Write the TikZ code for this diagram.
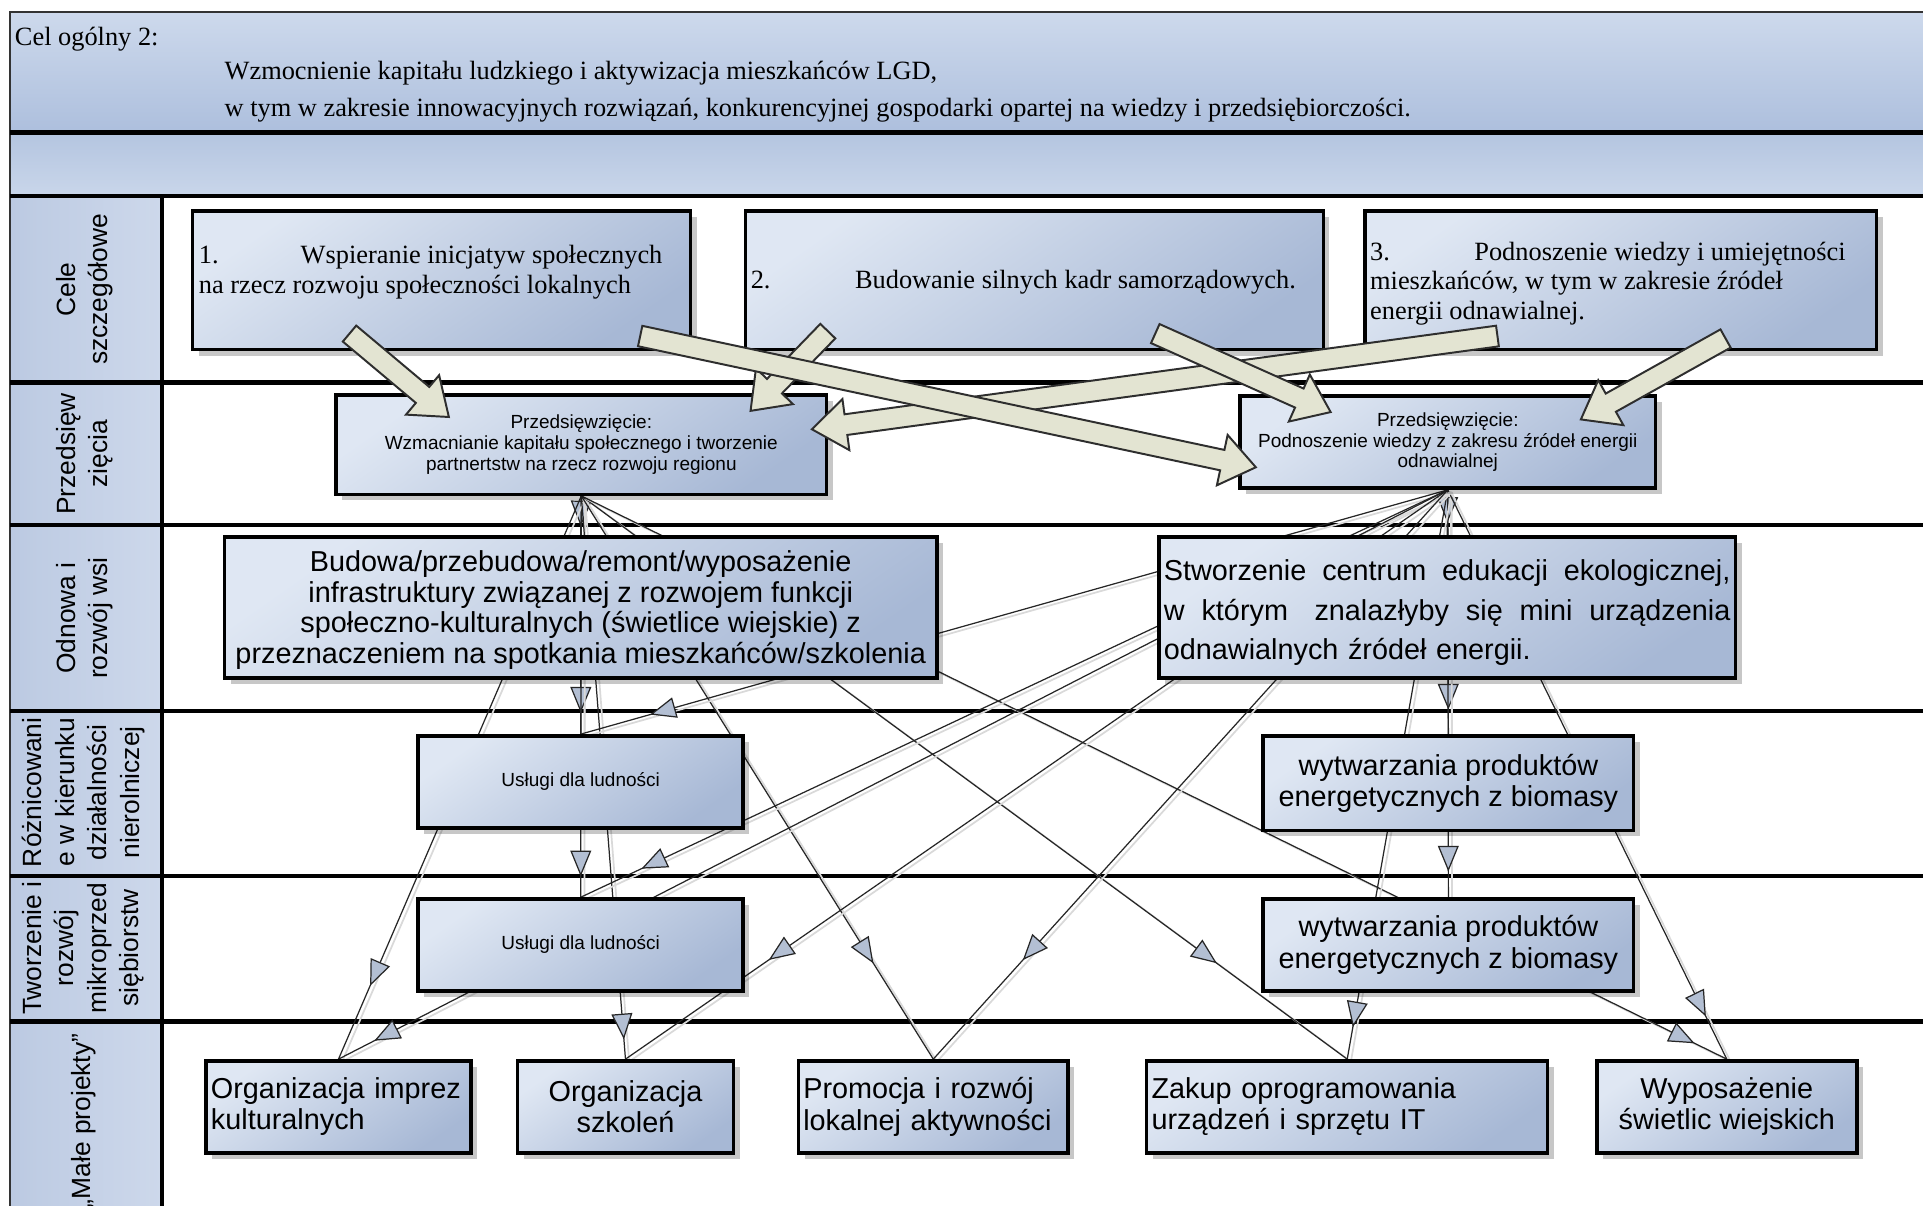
\documentclass[tikz,border=0pt]{standalone}
\usepackage{fontspec}
\setmainfont{Liberation Serif}
\setsansfont{Liberation Sans}
\usetikzlibrary{arrows.meta,calc,shadows,decorations.markings}
\definecolor{headtop}{HTML}{CDD9EC}
\definecolor{headbot}{HTML}{ADBFDD}
\definecolor{rowtop}{HTML}{B4C5E0}
\definecolor{rowbot}{HTML}{C9D6EA}
\definecolor{coll}{HTML}{BCCAE2}
\definecolor{colr}{HTML}{CDD8EB}
\definecolor{boxtop}{HTML}{DFE7F3}
\definecolor{boxbot}{HTML}{A7B8D5}
\definecolor{tricol}{HTML}{B3BFD3}
\definecolor{arrfill}{HTML}{E3E4D2}
\definecolor{arredge}{HTML}{2E2E2E}
\pgfdeclarelayer{back}
\pgfdeclarelayer{mid}
\pgfdeclarelayer{front}
\pgfsetlayers{back,mid,main,front}
\tikzset{
  lane/.style={line width=3.5pt, black},
  box/.style={draw=black, line width=2.8pt, top color=boxtop, bottom color=boxbot, shading angle=35,
    inner sep=3pt, drop shadow={shadow xshift=5pt, shadow yshift=-5pt, fill=black, opacity=0.22}},
  hdr/.style={font=\fontsize{21.5}{30}\selectfont, inner sep=0pt},
  ctext/.style={font=\fontsize{21.5}{24}\selectfont, align=left, inner sep=0pt},
  lanelabel/.style={font=\sffamily\fontsize{21.5}{26.5}\selectfont, rotate=90, align=center, inner sep=0pt},
  ptext/.style={font=\sffamily\fontsize{15.5}{17}\selectfont, align=center},
  bigtext/.style={font=\sffamily\fontsize{23.5}{25.5}\selectfont},
  tri/.tip={Triangle[length=21pt,width=17pt,fill=tricol,line width=1pt]},
  conn/.style={draw=black!85, line width=1pt,
    preaction={draw=black!15, line width=1.4pt, transform canvas={xshift=3pt,yshift=-2pt}}},
  am/.style={postaction={decorate,decoration={markings,mark=at position #1 with {\arrow{tri}}}}},
  barrow/.style={draw=arredge, fill=arrfill, line width=1.6pt, line join=miter}
}
\newcommand\blockarrow[2]{%
  \coordinate (tmpN) at ($(#2)!28pt!(#1)$);
  \filldraw[barrow] ($(#1)!8.5pt!90:(#2)$) -- ($(tmpN)!8.5pt!-90:(#1)$) -- ($(tmpN)!21pt!-90:(#1)$)
    -- (#2) -- ($(tmpN)!21pt!90:(#1)$) -- ($(tmpN)!8.5pt!90:(#1)$) -- ($(#1)!8.5pt!-90:(#2)$) -- cycle;}
\begin{document}
\begin{tikzpicture}[x=1pt,y=-1pt]
\useasboundingbox (0,0) rectangle (1568,983);

\begin{pgfonlayer}{back}
\fill[white] (0,0) rectangle (1568,983);
\shade[top color=headtop,bottom color=headbot] (8,10) rectangle (1568,108);
\shade[top color=rowtop,bottom color=rowbot] (8,108) rectangle (1568,160);
\shade[left color=coll,right color=colr] (8,160) rectangle (132,983);
\draw[line width=2pt, black!80] (8,983) -- (8,10) -- (1568,10);
\foreach \yy in {108,160,312,428,580,714,833} \draw[lane] (8,\yy) -- (1568,\yy);
\draw[lane] (132,160) -- (132,983);
\end{pgfonlayer}

% header
\node[hdr, anchor=base west] (h1) at (12,37) {Cel ogólny 2:};
\node[hdr, anchor=base west] (h2) at (183,65) {Wzmocnienie kapitału ludzkiego i aktywizacja mieszkańców LGD,};
\node[hdr, anchor=base west] (h3) at (183,95) {w tym w zakresie innowacyjnych rozwiązań, konkurencyjnej gospodarki opartej na wiedzy i przedsiębiorczości.};

% lane labels
\node[lanelabel] (L1) at (69,236) {Cele\\szczegółowe};
\node[lanelabel] (L2) at (69,370) {Przedsięw\\zięcia};
\node[lanelabel] (L3) at (69,504) {Odnowa i\\rozwój wsi};
\node[lanelabel] (L4) at (68,646) {Różnicowani\\e w kierunku\\działalności\\nierolniczej};
\node[lanelabel] (L5) at (68,773) {Tworzenie i\\rozwój\\mikroprzed\\siębiorstw};
\node[lanelabel] (L6) at (68,914) {„Małe projekty”};

% cele szczegolowe
\node[box, minimum width=406pt, minimum height=113pt] (C1) at (360,228.5) {};
\node[box, minimum width=471pt, minimum height=113pt] (C2) at (843.5,228.5) {};
\node[box, minimum width=417pt, minimum height=113pt] (C3) at (1321.5,228.5) {};
\node[ctext, anchor=north west] (C1t) at (162,200) {\makebox[83pt][l]{1.}Wspieranie inicjatyw społecznych\\na rzecz rozwoju społeczności lokalnych};
\node[ctext, anchor=north west] (C2t) at (612,220) {\makebox[85pt][l]{2.}Budowanie silnych kadr samorządowych.};
\node[ctext, anchor=north west] (C3t) at (1117,197) {\makebox[85pt][l]{3.}Podnoszenie wiedzy i umiejętności\\mieszkańców, w tym w zakresie źródeł\\energii odnawialnej.};

% przedsiewziecia
\node[box, ptext, minimum width=400pt, minimum height=81pt] (P1) at (474,362.5)
  {Przedsięwzięcie:\\Wzmacnianie kapitału społecznego i tworzenie\\partnertstw na rzecz rozwoju regionu};
\node[box, ptext, minimum width=339pt, minimum height=75pt] (P2) at (1180.5,360.5)
  {Przedsięwzięcie:\\Podnoszenie wiedzy z zakresu źródeł energii\\odnawialnej};

% odnowa
\node[box, font=\sffamily\fontsize{23.5}{25}\selectfont, align=center, minimum width=581pt, minimum height=115pt] (O1) at (473.5,495.5)
  {\rule{0pt}{21pt}Budowa/przebudowa/remont/wyposażenie\\infrastruktury związanej z rozwojem funkcji\\społeczno-kulturalnych (świetlice wiejskie) z\\przeznaczeniem na spotkania mieszkańców/szkolenia};
\node[box, font=\sffamily\fontsize{23.5}{32}\selectfont, align=left, text width=462pt, minimum width=470pt, minimum height=115pt] (O2) at (1180,495.5)
  {\rule{0pt}{25pt}\makebox[462pt][s]{Stworzenie \hfill centrum \hfill edukacji \hfill ekologicznej,}\\\makebox[462pt][s]{w \hfill którym\ \ \hfill znalazłyby \hfill się \hfill mini \hfill urządzenia}\\odnawialnych źródeł energii.};

% roznicowanie
\node[box, ptext, minimum width=265pt, minimum height=75pt] (R1) at (473.5,637.5) {Usługi dla ludności};
\node[box, bigtext, align=center, minimum width=302pt, minimum height=77pt] (R2) at (1181,638.5) {wytwarzania produktów\\energetycznych z biomasy};

% tworzenie
\node[box, ptext, minimum width=265pt, minimum height=75pt] (T1) at (473.5,770.5) {Usługi dla ludności};
\node[box, bigtext, align=center, minimum width=302pt, minimum height=75pt] (T2) at (1181,770.5) {wytwarzania produktów\\energetycznych z biomasy};

% male projekty
\node[box, bigtext, align=left, text width=208pt, minimum width=216pt, minimum height=75pt] (M1) at (276,902.5) {Organizacja imprez\\kulturalnych};
\node[box, bigtext, align=center, minimum width=176pt, minimum height=75pt] (M2) at (510,902.5) {Organizacja\\szkoleń};
\node[box, bigtext, align=left, text width=212pt, minimum width=220pt, minimum height=75pt] (M3) at (761,902.5) {Promocja i rozwój\\lokalnej aktywności};
\node[box, bigtext, align=left, text width=319pt, minimum width=327pt, minimum height=75pt] (M4) at (1098.5,902.5) {Zakup oprogramowania\\urządzeń i sprzętu IT};
\node[box, bigtext, align=center, minimum width=212pt, minimum height=75pt] (M5) at (1408,902.5) {Wyposażenie\\świetlic wiejskich};

% thin connectors
\begin{pgfonlayer}{mid}
\draw[conn, am=0.77]  (P1.south) -- (O1.north);
\draw[conn, am=0.91]  (P1.south) -- (R1.north);
\draw[conn, am=0.948] (P1.south) -- (T1.north);
\draw[conn, am=0.87]  (P1.south) -- (M1.north);
\draw[conn, am=0.965] (P1.south) -- (M2.north);
\draw[conn, am=0.83]  (P1.south) -- (M3.north);
\draw[conn, am=0.83]  (P1.south) -- (M4.north);
\draw[conn, am=0.972] (P1.south) -- (M5.north);
\draw[conn, am=0.72]  (P2.south) -- (O2.north);
\draw[conn, am=0.90]  (P2.south) -- (R2.north);
\draw[conn, am=0.937] (P2.south) -- (T2.north);
\draw[conn, am=0.944] (P2.south) -- (M4.north);
\draw[conn, am=0.925] (P2.south) -- (M5.north);
\draw[conn, am=0.92]  (P2.south) -- (R1.north);
\draw[conn, am=0.93]  (P2.south) -- (T1.north);
\draw[conn, am=0.968] (P2.south) -- (M1.north);
\draw[conn, am=0.826] (P2.south) -- (M2.north);
\draw[conn, am=0.826] (P2.south) -- (M3.north);
\end{pgfonlayer}

% block arrows
\coordinate (a1s) at (285,272);  \coordinate (a1e) at (366,340);
\coordinate (a2s) at (522,274);  \coordinate (a2e) at (1024,381);
\coordinate (a3s) at (675,270);  \coordinate (a3e) at (612,335);
\coordinate (a4s) at (942,272);  \coordinate (a4e) at (1085,336);
\coordinate (a5s) at (1221,274); \coordinate (a5e) at (662,350);
\coordinate (a6s) at (1407,276); \coordinate (a6e) at (1289,342);
\begin{pgfonlayer}{front}
\blockarrow{a5s}{a5e}
\blockarrow{a3s}{a3e}
\blockarrow{a2s}{a2e}
\blockarrow{a1s}{a1e}
\blockarrow{a4s}{a4e}
\blockarrow{a6s}{a6e}
\end{pgfonlayer}
\end{tikzpicture}
\end{document}
